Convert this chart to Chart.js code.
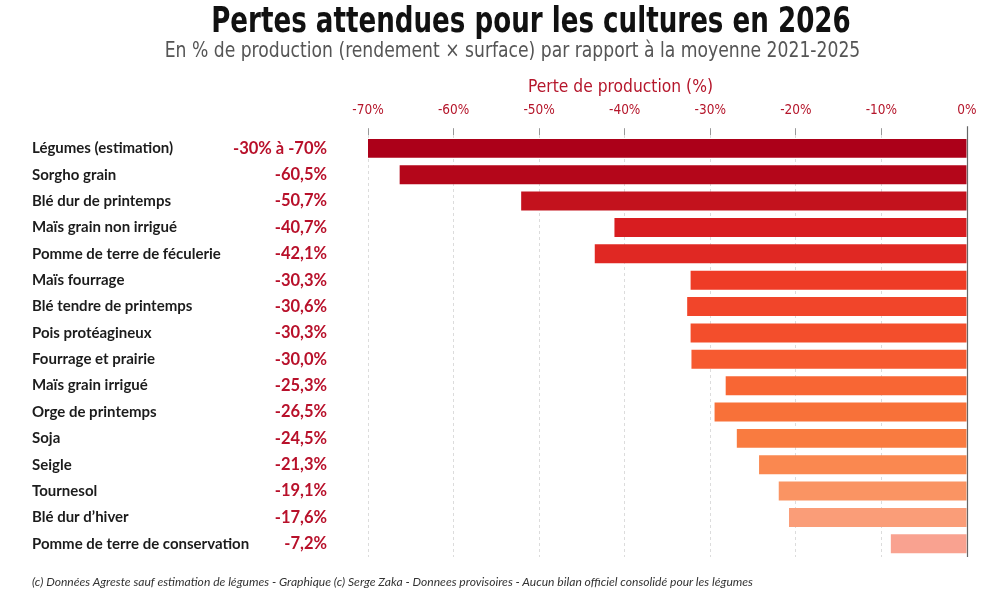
<!DOCTYPE html>
<html>
<head>
<meta charset="utf-8">
<script src="https://cdn.jsdelivr.net/npm/chart.js@4"></script>
<style>
  html, body { margin: 0; padding: 0; background: #fff; }
  #wrap { position: relative; width: 1000px; height: 600px; overflow: hidden; }
  #c { position: absolute; left: 0; top: 0; }
  .txt { position: absolute; white-space: nowrap; }
  #title { left: 0; width: 1000px; text-align: center; top: 0px;
    font: bold 35px "DejaVu Sans Condensed", sans-serif; color: #111;
    transform: scaleX(0.83); transform-origin: 682px 0; }
  #sub { left: 0; width: 1000px; text-align: center; top: 38px;
    font: 21px "DejaVu Sans Condensed", sans-serif; color: #555;
    transform: scaleX(0.91); transform-origin: 639px 0; }
  #axt { left: 528px; top: 75px;
    font: 18px "DejaVu Sans Condensed", sans-serif; color: #b5162b;
    transform: scaleX(0.96); transform-origin: 0 0; }
  #foot { left: 32px; top: 574px;
    font: italic 12.1px Lato, sans-serif; color: #333; }
</style>
</head>
<body>
<div id="wrap">
  <canvas id="c" width="1000" height="600"></canvas>
  <div class="txt" id="title">Pertes attendues pour les cultures en 2026</div>
  <div class="txt" id="sub">En % de production (rendement × surface) par rapport à la moyenne 2021-2025</div>
  <div class="txt" id="axt">Perte de production (%)</div>
  <div class="txt" id="foot">(c) Données Agreste sauf estimation de légumes - Graphique (c) Serge Zaka - Donnees provisoires - Aucun bilan officiel consolidé pour les légumes</div>
</div>
<script>
// cultures
const categories = [
  "Légumes (estimation)", "Sorgho grain", "Blé dur de printemps", "Maïs grain non irrigué",
  "Pomme de terre de féculerie", "Maïs fourrage", "Blé tendre de printemps", "Pois protéagineux",
  "Fourrage et prairie", "Maïs grain irrigué", "Orge de printemps", "Soja",
  "Seigle", "Tournesol", "Blé dur d’hiver", "Pomme de terre de conservation"
];
// longueur des barres (%)
const barValues = [-70, -66.3, -52.1, -41.2, -43.5, -32.3, -32.7, -32.3, -32.2, -28.2, -29.5, -26.9, -24.3, -22.0, -20.8, -8.9];
// valeurs affichées à gauche
const valueLabels = ["-30% à -70%", "-60,5%", "-50,7%", "-40,7%", "-42,1%", "-30,3%", "-30,6%", "-30,3%",
  "-30,0%", "-25,3%", "-26,5%", "-24,5%", "-21,3%", "-19,1%", "-17,6%", "-7,2%"];
const xTicks = [-70, -60, -50, -40, -30, -20, -10, 0];

const barColors = ["#ac0019", "#b4061a", "#c3121d", "#d81d20", "#e02823", "#ee3c26", "#f1452a", "#f34e2c",
  "#f65a30", "#f86634", "#f87139", "#f97b40", "#fa8850", "#fa9463", "#fa9d78", "#f9a290"];

const sideLabels = {
  id: 'sideLabels',
  afterDraw(chart) {
    const ctx = chart.ctx, y = chart.scales.y, x = chart.scales.x;
    ctx.save();
    ctx.textBaseline = 'middle';
    categories.forEach((cat, i) => {
      const py = y.getPixelForValue(i);
      ctx.font = 'bold 15px Lato, sans-serif';
      ctx.fillStyle = '#1c1c1c';
      ctx.textAlign = 'left';
      ctx.fillText(cat, 32, py);
      ctx.font = 'bold 16.5px Lato, sans-serif';
      ctx.fillStyle = '#b8102a';
      ctx.textAlign = 'right';
      ctx.fillText(valueLabels[i], 327, py);
    });
    // ligne du zéro
    const x0 = Math.round(x.getPixelForValue(0)) + 0.5;
    ctx.strokeStyle = '#666';
    ctx.lineWidth = 1.2;
    ctx.beginPath();
    ctx.moveTo(x0, chart.chartArea.top - 9);
    ctx.lineTo(x0, chart.chartArea.bottom);
    ctx.stroke();
    ctx.restore();
  }
};

new Chart(document.getElementById('c').getContext('2d'), {
  type: 'bar',
  data: {
    labels: categories,
    datasets: [{ data: barValues, backgroundColor: barColors, borderWidth: 0,
      categoryPercentage: 1, barPercentage: 0.72 }]
  },
  options: {
    indexAxis: 'y',
    responsive: false,
    animation: false,
    layout: { padding: { left: 368, right: 33, top: 92, bottom: 43 } },
    plugins: { legend: { display: false }, tooltip: { enabled: false } },
    scales: {
      x: {
        position: 'top',
        min: -70, max: 0,
        afterBuildTicks: s => { s.ticks = xTicks.map(v => ({ value: v })); },
        ticks: {
          padding: 10,
          color: '#b5162b',
          font: { family: '"DejaVu Sans Condensed", sans-serif', size: 13.5 },
          callback: v => v + '%'
        },
        grid: { color: '#dcdcdc', tickColor: '#999', tickLength: 7, tickBorderDash: [] },
        border: { display: false, dash: [3, 3] }
      },
      y: {
        display: false
      }
    }
  },
  plugins: [sideLabels]
});
</script>
</body>
</html>
